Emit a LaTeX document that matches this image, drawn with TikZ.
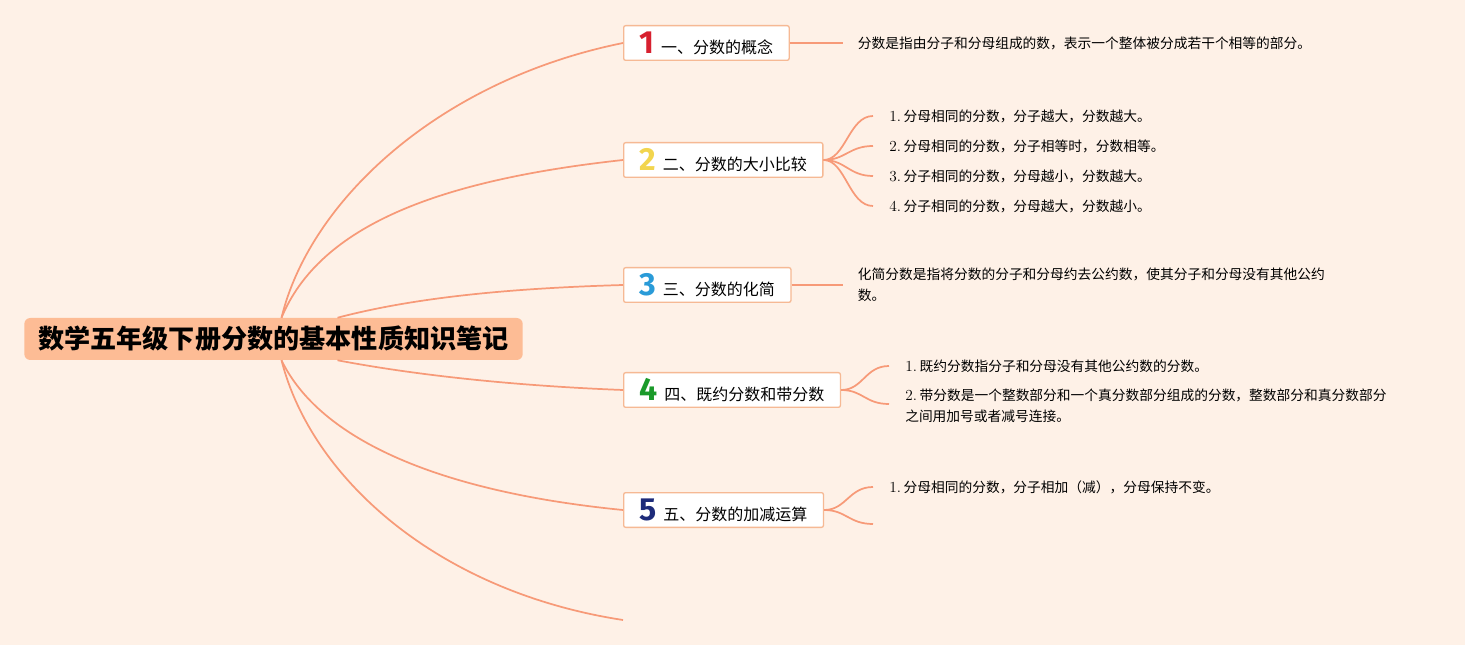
\documentclass[tikz,border=0pt]{standalone}
\usepackage{fontspec}
\newfontfamily\cjk{Noto Sans CJK SC}
\newfontfamily\numfont{Fira Sans}
\usepackage{xcolor}
\usetikzlibrary{positioning}

\definecolor{bgpeach}{HTML}{FEF1E7}
\definecolor{rootfill}{HTML}{FDBC95}
\definecolor{branchline}{HTML}{F79A78}
\definecolor{boxline}{HTML}{F6B994}
\definecolor{numred}{HTML}{D7202F}
\definecolor{numyellow}{HTML}{F2D54E}
\definecolor{numblue}{HTML}{2A9BD8}
\definecolor{numgreen}{HTML}{1A9A2A}
\definecolor{numnavy}{HTML}{1D2B7A}

\newcommand{\topicnum}[2]{{\numfont\bfseries\fontsize{24}{24}\selectfont\color{#1}#2}\hspace{5pt}}
\newcommand{\itemno}[1]{{\fontsize{11.5}{15.5}\selectfont #1.}\hspace{2pt}}

\begin{document}
\begin{tikzpicture}[
    x=0.75pt, y=-0.75pt,
    root/.style={
      rectangle, fill=rootfill, rounded corners=4.5pt,
      minimum height=31.5pt, inner xsep=10.5pt,
      font=\cjk\bfseries\fontsize{19.6}{22}\selectfont
    },
    topic/.style={
      rectangle, draw=boxline, fill=white, line width=1pt,
      rounded corners=1.5pt, minimum height=26pt, inner xsep=12pt,
      anchor=west, font=\cjk\fontsize{12}{14}\selectfont
    },
    leaf/.style={anchor=west, inner sep=0pt, align=left,
      font=\fontsize{10.3}{15.5}\selectfont},
    link/.style={draw=branchline, line width=1.3pt},
  ]

  % background and frame
  \fill[bgpeach] (0,0) rectangle (1465,645);
  \useasboundingbox (0,0) rectangle (1465,645);

  % central topic
  \node[root] (root) at (273.5,339) {数学五年级下册分数的基本性质知识笔记};

  % main branches
  \node[topic] (b1) at (623,43)  {\topicnum{numred}{1}一、分数的概念};
  \node[topic] (b2) at (623,160) {\topicnum{numyellow}{2}二、分数的大小比较};
  \node[topic] (b3) at (623,285) {\topicnum{numblue}{3}三、分数的化简};
  \node[topic] (b4) at (623,390) {\topicnum{numgreen}{4}四、既约分数和带分数};
  \node[topic] (b5) at (623,510) {\topicnum{numnavy}{5}五、分数的加减运算};
  \coordinate (b6) at (623,620);

  \draw[link] ([xshift=6pt]root.north) .. controls (310,200) and (440,80) .. (b1.west);
  \draw[link] ([xshift=6pt]root.north) .. controls (320,225) and (440,180) .. (b2.west);
  \draw[link] ([xshift=48pt]root.north) .. controls (420,296) and (520,288) .. (b3.west);
  \draw[link] ([xshift=48pt]root.south) .. controls (420,376) and (520,386) .. (b4.west);
  \draw[link] ([xshift=6pt]root.south) .. controls (320,440) and (440,492) .. (b5.west);
  \draw[link] ([xshift=6pt]root.south) .. controls (312,480) and (440,592) .. (b6);

  % 1
  \coordinate (e1) at (843,43);
  \draw[link] (b1.east) -- (e1);
  \node[leaf, right=11pt of e1] (t1) {\cjk 分数是指由分子和分母组成的数，表示一个整体被分成若干个相等的部分。};

  % 2
  \coordinate (e21) at (873,116);
  \coordinate (e22) at (873,146);
  \coordinate (e23) at (873,176);
  \coordinate (e24) at (873,206);
  \foreach \k in {21,22,23,24}
    \draw[link] (b2.east) .. controls +(22,0) and +(-24,0) .. (e\k);
  \node[leaf, right=12pt of e21] (t21) {\itemno{1}{\cjk 分母相同的分数，分子越大，分数越大。}};
  \node[leaf, right=12pt of e22] (t22) {\itemno{2}{\cjk 分母相同的分数，分子相等时，分数相等。}};
  \node[leaf, right=12pt of e23] (t23) {\itemno{3}{\cjk 分子相同的分数，分母越小，分数越大。}};
  \node[leaf, right=12pt of e24] (t24) {\itemno{4}{\cjk 分子相同的分数，分母越大，分数越小。}};

  % 3
  \coordinate (e3) at (843,285);
  \draw[link] (b3.east) -- (e3);
  \node[leaf, right=11pt of e3] (t3) {\cjk 化简分数是指将分数的分子和分母约去公约数，使其分子和分母没有其他公约\\\cjk 数。};

  % 4
  \coordinate (e41) at (889,366);
  \coordinate (e42) at (889,404);
  \foreach \k in {41,42}
    \draw[link] (b4.east) .. controls +(22,0) and +(-24,0) .. (e\k);
  \node[leaf, right=12pt of e41] (t41) {\itemno{1}{\cjk 既约分数指分子和分母没有其他公约数的分数。}};
  \node[leaf, anchor=north west] (t42) at ([xshift=12pt]e42 |- 0,389) {\itemno{2}{\cjk 带分数是一个整数部分和一个真分数部分组成的分数，整数部分和真分数部分}\\{\cjk 之间用加号或者减号连接。}};

  % 5
  \coordinate (e51) at (873,487);
  \coordinate (e52) at (873,524);
  \foreach \k in {51,52}
    \draw[link] (b5.east) .. controls +(22,0) and +(-24,0) .. (e\k);
  \node[leaf, right=12pt of e51] (t51) {\itemno{1}{\cjk 分母相同的分数，分子相加（减），分母保持不变。}};
\end{tikzpicture}
\end{document}
